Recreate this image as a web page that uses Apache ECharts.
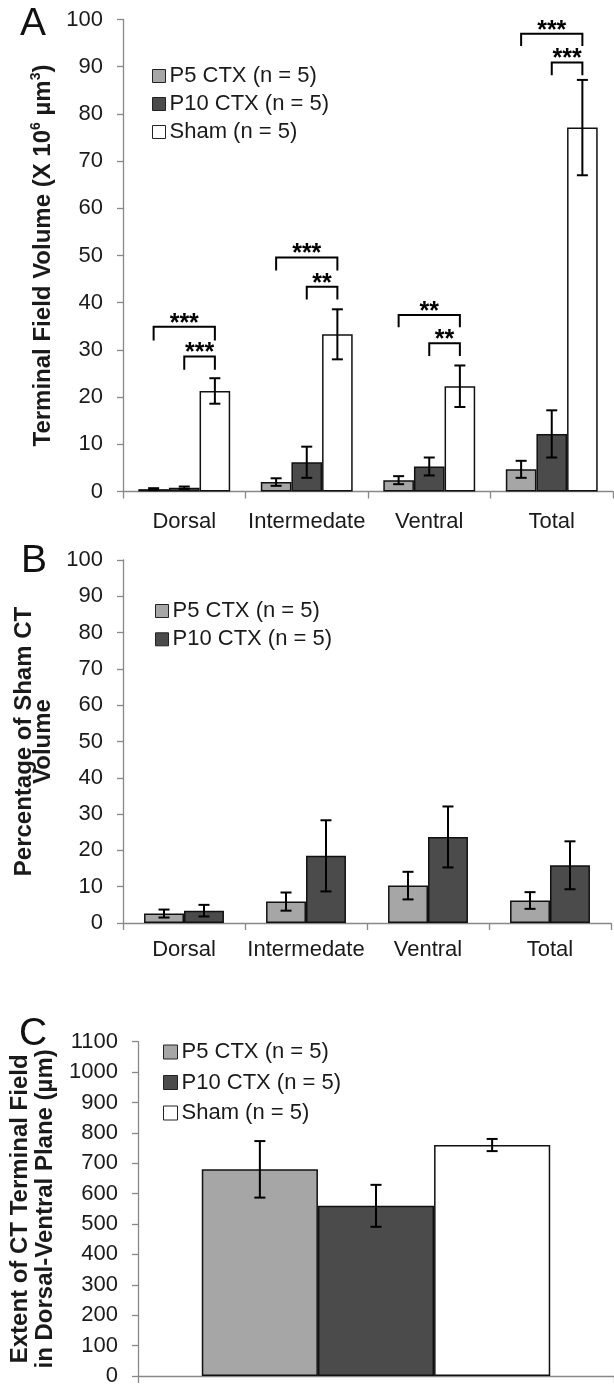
<!DOCTYPE html>
<html>
<head>
<meta charset="utf-8">
<script src="https://cdn.jsdelivr.net/npm/echarts@6/dist/echarts.min.js"></script>
<style>
    html, body { margin: 0; padding: 0; background: #fff; }
    #main { width: 614px; height: 1390px; }
</style>
</head>
<body>
<div id="main"></div>
<script>
    // categories / legend
    const categories = ['Dorsal', 'Intermedate', 'Ventral', 'Total'];
    const groupNames = ['P5 CTX (n = 5)', 'P10 CTX (n = 5)', 'Sham (n = 5)'];

    // A: terminal field volume (X 10^6 um^3)
    const volP5 = [0.5, 2.0, 2.4, 4.7];
    const volP5Err = [0.2, 0.8, 0.85, 1.8];
    const volP10 = [0.8, 6.2, 5.3, 12.2];
    const volP10Err = [0.25, 3.3, 1.9, 5.0];
    const volSham = [21.3, 33.3, 22.3, 77.1];
    const volShamErr = [2.7, 5.3, 4.4, 10.1];

    // A: significance brackets (left leg series, line level, leg end, label)
    const bracketCat = [0, 0, 1, 1, 2, 2, 3, 3];
    const bracketFrom = [0, 1, 0, 1, 0, 1, 0, 1];
    const bracketTop = [34.9, 28.6, 49.6, 43.4, 37.4, 31.4, 97.0, 90.9];
    const bracketLeg = [32.0, 25.8, 46.8, 40.7, 34.8, 28.7, 94.4, 88.2];
    const bracketLabel = ['***', '***', '***', '**', '**', '**', '***', '***'];

    // B: percentage of sham CT volume
    const pctP5 = [2.6, 5.9, 10.3, 6.2];
    const pctP5Err = [1.1, 2.5, 3.8, 2.3];
    const pctP10 = [3.4, 18.5, 23.7, 15.9];
    const pctP10Err = [1.6, 9.8, 8.4, 6.6];

    // C: extent in dorsal-ventral plane (um)
    const extCategories = [''];
    const extP5 = [680];
    const extP5Err = [93];
    const extP10 = [560];
    const extP10Err = [69];
    const extSham = [760];
    const extShamErr = [20];

    const FONT = "'Liberation Sans', Arial, sans-serif";
    const colors = ['#a6a6a6', '#4b4b4b', '#ffffff'];
    const axisGray = '#888888';

    const chart = echarts.init(document.getElementById('main'));

    function errRender(nSeries, k, gap) {
        return function (params, api) {
            const x = api.value(0), y = api.value(1), e = api.value(2);
            const band = api.size([1, 0])[0];
            const bw = band * (1 - gap) / nSeries;
            const off = (k - (nSeries - 1) / 2) * bw;
            const top = api.coord([x, y + e]);
            const bot = api.coord([x, y - e]);
            const cx = top[0] + off;
            const cap = 5.5;
            const st = { stroke: '#000', lineWidth: 2 };
            return {
                type: 'group',
                children: [
                    { type: 'line', shape: { x1: cx, y1: top[1], x2: cx, y2: bot[1] }, style: st },
                    { type: 'line', shape: { x1: cx - cap, y1: top[1], x2: cx + cap, y2: top[1] }, style: st },
                    { type: 'line', shape: { x1: cx - cap, y1: bot[1], x2: cx + cap, y2: bot[1] }, style: st }
                ]
            };
        };
    }

    function barSeries(name, k, data, gi, gap) {
        return {
            name: name,
            type: 'bar',
            xAxisIndex: gi,
            yAxisIndex: gi,
            data: data,
            barGap: '0%',
            barCategoryGap: (gap * 100) + '%',
            itemStyle: { color: colors[k], borderColor: '#111', borderWidth: 1.5 },
            silent: true
        };
    }

    function errSeries(vals, errs, k, n, gi, gap) {
        return {
            type: 'custom',
            xAxisIndex: gi,
            yAxisIndex: gi,
            clip: false,
            silent: true,
            z: 5,
            encode: { x: 0, y: 1 },
            renderItem: errRender(n, k, gap),
            data: vals.map((v, i) => [i, v, errs[i]])
        };
    }

    const gapA = 0.25, gapB = 0.345, gapC = 0.268;

    function bracketRender(params, api) {
        const i = params.dataIndex;
        const band = api.size([1, 0])[0];
        const bw = band * (1 - gapA) / 3;
        const c = api.coord([bracketCat[i], bracketTop[i]]);
        const leg = api.coord([bracketCat[i], bracketLeg[i]]);
        const xl = c[0] + (bracketFrom[i] - 1) * bw;
        const xr = c[0] + bw;
        const st = { stroke: '#000', lineWidth: 2, fill: null };
        return {
            type: 'group',
            children: [
                { type: 'polyline', shape: { points: [[xl, leg[1]], [xl, c[1]], [xr, c[1]], [xr, leg[1]]] }, style: st },
                {
                    type: 'text',
                    style: {
                        text: bracketLabel[i], x: (xl + xr) / 2, y: c[1] - 3,
                        textAlign: 'center', textVerticalAlign: 'middle',
                        font: 'bold 25px ' + FONT, fill: '#000'
                    }
                }
            ]
        };
    }

    function yAxisCfg(gi, max, interval, name, nameGap, nameStyle) {
        return {
            gridIndex: gi,
            type: 'value',
            min: 0,
            max: max,
            interval: interval,
            name: name,
            nameLocation: 'middle',
            nameRotate: 90,
            nameGap: nameGap,
            nameTextStyle: nameStyle,
            axisLine: { show: true, lineStyle: { color: axisGray, width: 1.3 } },
            axisTick: { show: true, length: 6, lineStyle: { color: axisGray, width: 1.3 } },
            axisLabel: { margin: 20, color: '#1a1a1a', fontSize: 22, fontFamily: FONT, formatter: v => String(v) },
            splitLine: { show: false }
        };
    }

    function xAxisCfg(gi, data, ticks, margin) {
        return {
            gridIndex: gi,
            type: 'category',
            data: data,
            axisLine: { lineStyle: { color: axisGray, width: 1.3 } },
            axisTick: { show: ticks, length: 7, lineStyle: { color: axisGray, width: 1.3 } },
            axisLabel: { margin: margin, color: '#1a1a1a', fontSize: 22, fontFamily: FONT, interval: 0 }
        };
    }

    function legendCfg(names, left, top, size, gap) {
        return {
            data: names,
            orient: 'vertical',
            left: left,
            top: top,
            itemWidth: size,
            itemHeight: size,
            itemGap: gap,
            icon: 'rect',
            selectedMode: false,
            itemStyle: { borderColor: '#222', borderWidth: 1 },
            textStyle: { fontSize: 22, fontFamily: FONT, color: '#1a1a1a', lineHeight: 22, padding: [0, 0, 0, -1] }
        };
    }

    const titleBold = { fontFamily: FONT, fontWeight: 'bold', fontSize: 24, color: '#1a1a1a' };

    const option = {
        animation: false,
        backgroundColor: '#fff',
        grid: [
            { left: 123, top: 19.5, right: 1, height: 472 },
            { left: 123, top: 560, right: 3, height: 363 },
            { left: 138, top: 1041.7, right: -8, height: 339 }
        ],
        legend: [
            legendCfg(groupNames, 147, 60, 13, 6),
            legendCfg(groupNames.slice(0, 2), 150, 595, 13, 6.3),
            legendCfg(groupNames, 158, 1036, 14, 8.5)
        ],
        xAxis: [
            xAxisCfg(0, categories, true, 19),
            xAxisCfg(1, categories, true, 16),
            xAxisCfg(2, extCategories, true, 14)
        ],
        yAxis: [
            yAxisCfg(0, 100, 10, '{t|Terminal Field Volume (X 10}{s|6}{t| µm}{s|3}{t|)}', 60, {
                rich: {
                    t: { fontFamily: FONT, fontWeight: 'bold', fontSize: 24, color: '#1a1a1a', lineHeight: 28 },
                    s: { fontFamily: FONT, fontWeight: 'bold', fontSize: 14, color: '#1a1a1a', verticalAlign: 'top', lineHeight: 28 }
                }
            }),
            yAxisCfg(1, 100, 10, 'Percentage of Sham CT\nVolume', 59, Object.assign({ lineHeight: 19 }, titleBold)),
            yAxisCfg(2, 1100, 100, 'Extent of CT Terminal Field\nin Dorsal-Ventral Plane (µm)', 75, Object.assign({ lineHeight: 25 }, titleBold))
        ],
        graphic: [
            { type: 'text', left: 20, top: 5, style: { text: 'A', font: '39px ' + FONT, fill: '#111' } },
            { type: 'text', left: 21, top: 542, style: { text: 'B', font: '39px ' + FONT, fill: '#111' } },
            { type: 'text', left: 19, top: 1015, style: { text: 'C', font: '39px ' + FONT, fill: '#111' } }
        ],
        series: [
            barSeries(groupNames[0], 0, volP5, 0, gapA),
            barSeries(groupNames[1], 1, volP10, 0, gapA),
            barSeries(groupNames[2], 2, volSham, 0, gapA),
            errSeries(volP5, volP5Err, 0, 3, 0, gapA),
            errSeries(volP10, volP10Err, 1, 3, 0, gapA),
            errSeries(volSham, volShamErr, 2, 3, 0, gapA),
            {
                type: 'custom',
                xAxisIndex: 0,
                yAxisIndex: 0,
                clip: false,
                silent: true,
                z: 6,
                encode: { x: 0, y: 1 },
                renderItem: bracketRender,
                data: bracketCat.map((c, i) => [c, bracketTop[i]])
            },

            barSeries(groupNames[0], 0, pctP5, 1, gapB),
            barSeries(groupNames[1], 1, pctP10, 1, gapB),
            errSeries(pctP5, pctP5Err, 0, 2, 1, gapB),
            errSeries(pctP10, pctP10Err, 1, 2, 1, gapB),

            barSeries(groupNames[0], 0, extP5, 2, gapC),
            barSeries(groupNames[1], 1, extP10, 2, gapC),
            barSeries(groupNames[2], 2, extSham, 2, gapC),
            errSeries(extP5, extP5Err, 0, 3, 2, gapC),
            errSeries(extP10, extP10Err, 1, 3, 2, gapC),
            errSeries(extSham, extShamErr, 2, 3, 2, gapC)
        ]
    };

    chart.setOption(option);
</script>
</body>
</html>
